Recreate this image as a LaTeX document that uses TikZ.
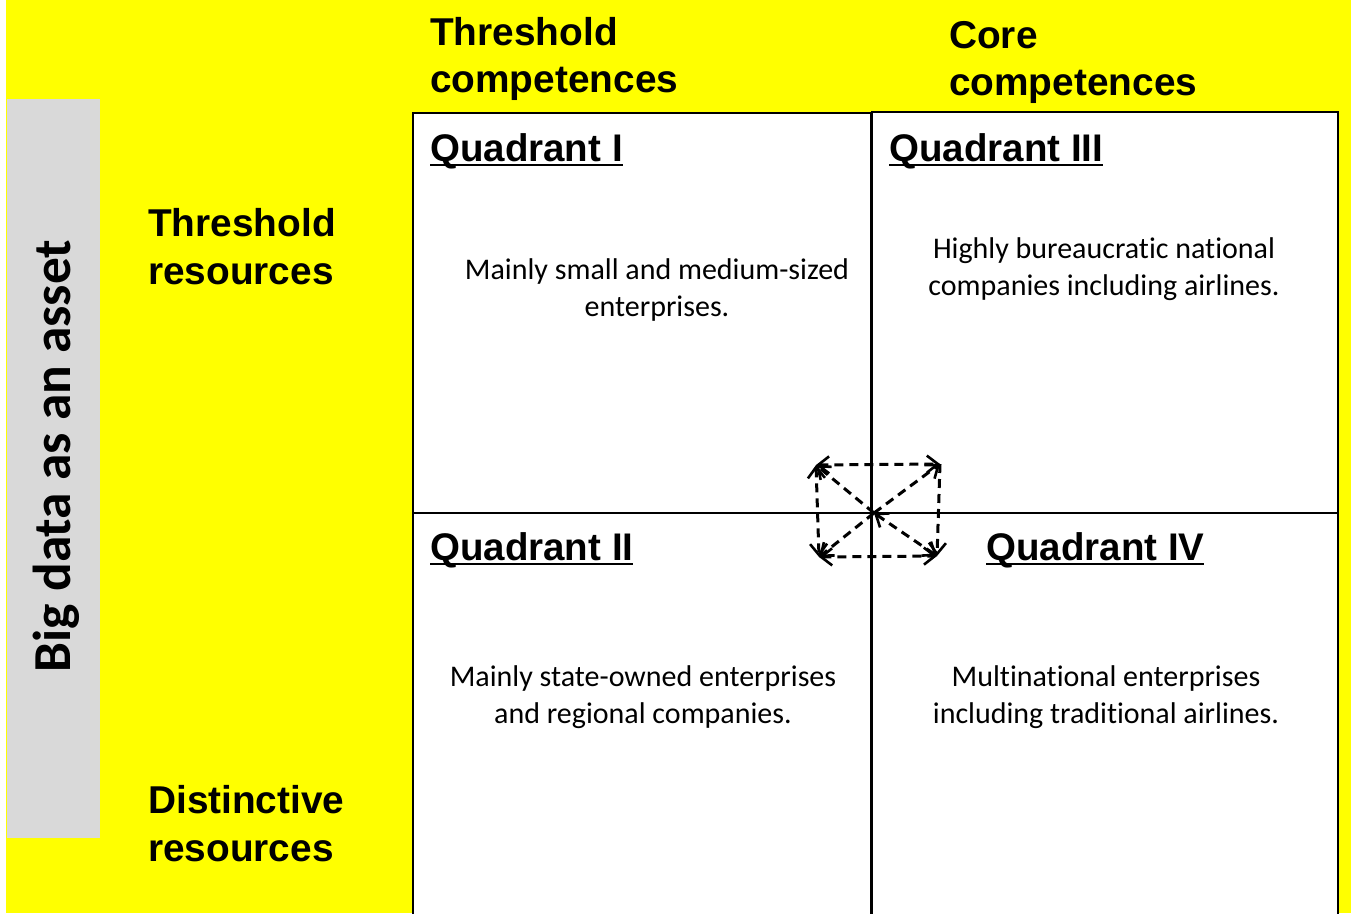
\documentclass[tikz,border=0pt]{standalone}
\usepackage{fontspec}
\setmainfont{Carlito}[Ligatures=NoCommon]
\newfontfamily\hdfont{Liberation Sans}
\usetikzlibrary{arrows.meta}
\definecolor{bgyellow}{HTML}{FFFF00}
\definecolor{sidegrey}{HTML}{D9D9D9}
\newcommand\myul[1]{\setbox0\hbox{#1}\rlap{\rule[-5pt]{\wd0}{2pt}}\box0}
\tikzset{
  hd/.style={font=\hdfont\bfseries\fontsize{38.8}{47.5}\selectfont, align=left, anchor=base west, inner sep=0pt},
  quad/.style={font=\hdfont\bfseries\fontsize{38.5}{47.5}\selectfont, anchor=base west, inner sep=0pt},
  body/.style={font=\fontsize{30}{37.5}\selectfont, align=center, inner sep=0pt},
  qbox/.style={draw=black, fill=white, line width=2pt},
  barb/.tip={Straight Barb[length=11pt,width=17pt,line width=2.6pt]},
  darr/.style={dashed, dash pattern=on 9pt off 6pt, line width=3pt, -barb},
  dbarr/.style={dashed, dash pattern=on 9pt off 6pt, line width=3pt, barb-barb}
}
\begin{document}
\begin{tikzpicture}[x=1pt,y=-1pt]
\useasboundingbox (0,0) rectangle (1351,913);
\fill[white] (0,0) rectangle (1351,913);
\fill[bgyellow] (6,0) rectangle (1351,913);
\fill[sidegrey] (7,99) rectangle (100,838);
\node[rotate=90, font=\bfseries\fontsize{53.4}{60}\selectfont, inner sep=0pt] (side) at (56,456) {Big data as an asset};

\node[hd] (tc) at (430,92.5) {Threshold\\competences};
\node[hd] (cc) at (949,95.5) {Core\\competences};
\node[hd] (tr) at (148,284) {Threshold\\resources};
\node[hd] (dr) at (148,861) {Distinctive\\resources};

\draw[qbox] (413,113) rectangle (871,513);
\draw[qbox] (872,112) rectangle (1338,513);
\draw[qbox] (413,513) rectangle (871,930);
\draw[qbox] (872,513) rectangle (1338,930);

\node[quad] (q1) at (430,161) {\myul{Quadrant I}};
\node[quad] (q3) at (889,161) {\myul{Quadrant III}};
\node[quad] (q2) at (430,560) {\myul{Quadrant II}};
\node[quad] (q4) at (986,560) {\myul{Quadrant IV}};

\node[body] (b1) at (657,290) {Mainly small and medium-sized\\enterprises.};
\node[body] (b3) at (1104,269) {Highly bureaucratic national\\companies including airlines.};
\node[body] (b2) at (643,697) {Mainly state-owned enterprises\\and regional companies.};
\node[body] (b4) at (1106,697) {Multinational enterprises\\including traditional airlines.};

\coordinate (c) at (874,513);
\coordinate (tl) at (816,465);
\coordinate (tr) at (940,464);
\coordinate (bl) at (819,557);
\coordinate (br) at (937,556);
\draw[darr] (c) -- (tl);
\draw[darr] (c) -- (tr);
\draw[darr] (c) -- (bl);
\draw[dbarr] (c) -- (br);
\draw[dbarr] (tl) -- (tr);
\draw[dbarr] (tl) -- (bl);
\draw[dbarr] (bl) -- (br);
\draw[darr] (tr) -- (br);
\end{tikzpicture}
\end{document}
